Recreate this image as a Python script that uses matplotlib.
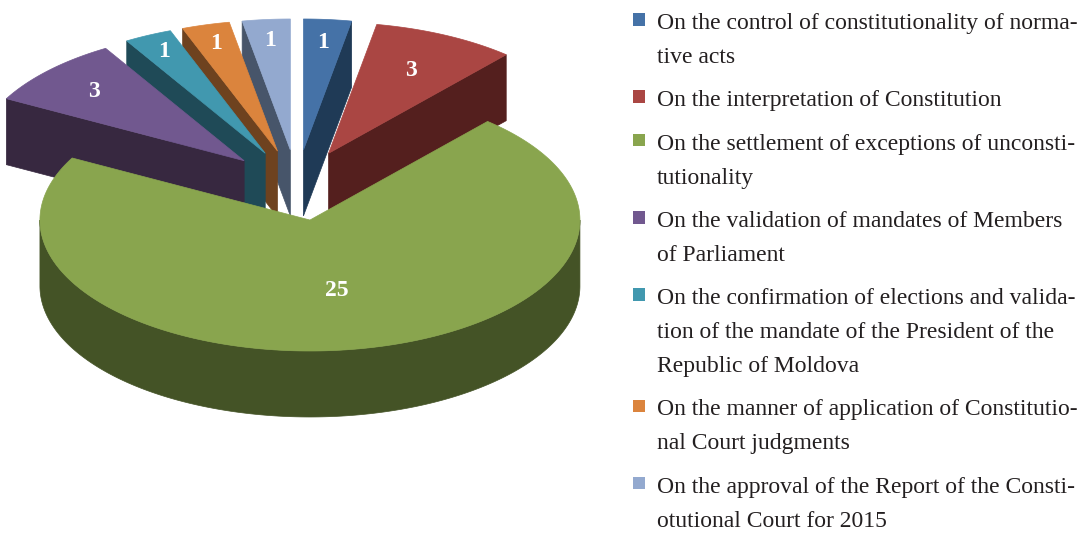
import matplotlib.pyplot as plt
from matplotlib.patches import Polygon, Rectangle
import numpy as np

#----------------------------------------------------------------------------------
# data: number of judgments by type

values = [1, 3, 25, 3, 1, 1, 1]
names = [
    "On the control of constitutionality of norma-\ntive acts",
    "On the interpretation of Constitution",
    "On the settlement of exceptions of unconsti-\ntutionality",
    "On the validation of mandates of Members\nof Parliament",
    "On the confirmation of elections and valida-\ntion of the mandate of the President of the\nRepublic of Moldova",
    "On the manner of application of Constitutio-\nnal Court judgments",
    "On the approval of the Report of the Consti-\notutional Court for 2015",
]
top_colors = ["#4572a7", "#aa4643", "#89a54e", "#71588f", "#4198af", "#db843d", "#93a9cf"]
side_colors = ["#1f3a56", "#541f1e", "#445326", "#372840", "#1f4a57", "#6e421f", "#47556a"]

#----------------------------------------------------------------------------------
# pie geometry (pixel units, y grows downward)

cx, cy = 296.9, 185.2     # pie centre
R = 270                   # radius
K = 0.485                 # vertical squash of the tilted disc
H = 66                    # thickness
EXPLODE = 73              # explode distance
label_frac = [0.82, 0.70, 0.55, 0.77, 0.86, 0.85, 0.84]

fig = plt.figure(figsize=(10.9, 5.34), dpi=100)
ax = fig.add_axes([0, 0, 1, 1])
ax.set_xlim(0, 1090)
ax.set_ylim(534, 0)
ax.axis("off")


def project(theta, r, ox, oy, dz=0.0):
    t = np.radians(theta)
    return ox + r * np.sin(t), oy - r * np.cos(t) * K + dz


def arc(t1, t2, ox, oy, dz=0.0):
    th = np.linspace(t1, t2, max(int(abs(t2 - t1) * 2), 2))
    t = np.radians(th)
    return np.column_stack([ox + R * np.sin(t), oy - R * np.cos(t) * K + dz])


def face(pts, color):
    ax.add_patch(Polygon(pts, closed=True, facecolor=color, edgecolor=color, linewidth=0.5))


total = float(sum(values))
bounds = np.concatenate([[0], np.cumsum(values) / total * 360])
slices = []
for i in range(len(values)):
    t1, t2 = bounds[i], bounds[i + 1]
    mid = (t1 + t2) / 2
    slices.append((i, t1, t2, mid))

# back slices first, the front one last
order = sorted(slices, key=lambda s: min(s[3], 360 - s[3]))

for i, t1, t2, mid in order:
    m = np.radians(mid)
    ox = cx + EXPLODE * np.sin(m)
    oy = cy - EXPLODE * np.cos(m) * K

    tip_top = (ox, oy)
    tip_bot = (ox, oy + H)

    # radial walls
    if np.sin(np.radians(t1)) < -1e-9:
        a = project(t1, R, ox, oy)
        b = project(t1, R, ox, oy, H)
        face([tip_top, a, b, tip_bot], side_colors[i])
    if np.sin(np.radians(t2)) > 1e-9:
        a = project(t2, R, ox, oy)
        b = project(t2, R, ox, oy, H)
        face([tip_top, a, b, tip_bot], side_colors[i])

    # outer wall, front half only
    lo, hi = max(t1, 90), min(t2, 270)
    if lo < hi:
        up = arc(lo, hi, ox, oy)
        down = arc(lo, hi, ox, oy, H)[::-1]
        face(np.vstack([up, down]), side_colors[i])

    # top
    face(np.vstack([[tip_top], arc(t1, t2, ox, oy)]), top_colors[i])

    lx, ly = project(mid, R * label_frac[i], ox, oy)
    ax.text(lx, ly, str(values[i]), color="white", fontsize=17, fontweight="bold",
            family="Liberation Serif", ha="center", va="center")

#----------------------------------------------------------------------------------
# legend

line_step = 33.8
entry_gap = 43.5
baseline = 29
for i, name in enumerate(names):
    ax.add_patch(Rectangle((632.5, baseline - 16), 12.5, 12.5, facecolor=top_colors[i],
                           edgecolor="none"))
    lines = name.split("\n")
    for j, line in enumerate(lines):
        ax.text(657, baseline + j * line_step, line, color="#231f20", fontsize=17,
                family="Liberation Serif", ha="left", va="baseline")
    baseline += (len(lines) - 1) * line_step + entry_gap

fig.savefig("out.png", dpi=100)
